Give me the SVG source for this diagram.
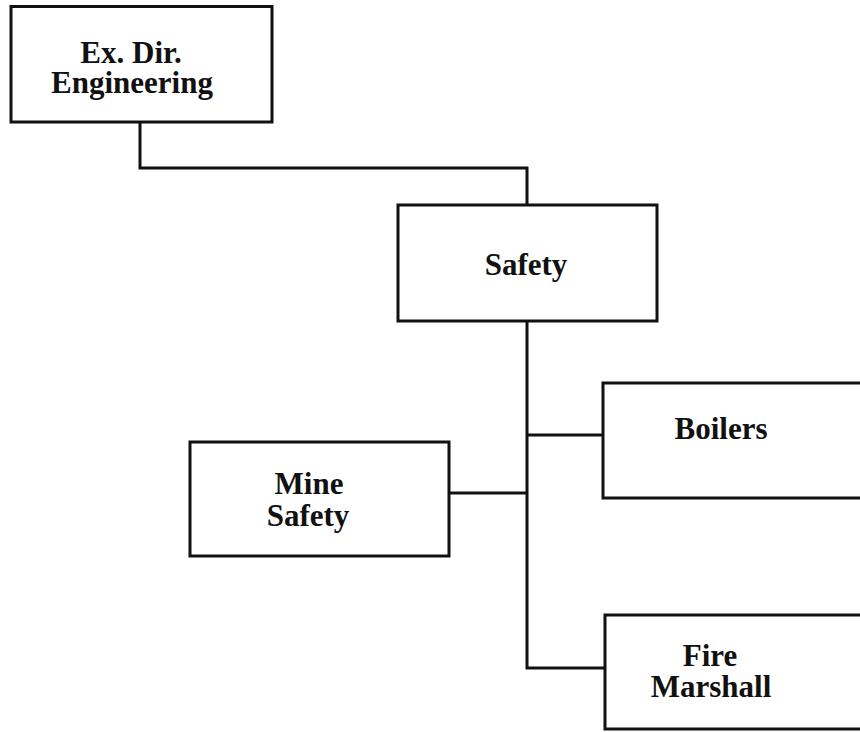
<svg xmlns="http://www.w3.org/2000/svg" width="860" height="732" viewBox="0 0 860 732">
  <style>
    .box { fill: #ffffff; stroke: #111111; stroke-width: 3; }
    .link { fill: none; stroke: #111111; stroke-width: 3; stroke-linejoin: miter; }
    .label { font-family: "Liberation Serif", "Times New Roman", serif; font-weight: bold; font-size: 31px; fill: #111111; text-anchor: middle; }
  </style>
  <rect width="860" height="732" fill="#ffffff"/>

  <g id="connectors">
    <path class="link" d="M140,122 V168 H527 V205"/>
    <path class="link" d="M527,321 V668 H605"/>
    <path class="link" d="M527,435 H603"/>
    <path class="link" d="M449,493 H527"/>
  </g>

  <g id="exdir">
    <rect class="box" x="11" y="6.5" width="261" height="115.5"/>
    <text class="label" x="131" y="63">Ex. Dir.</text>
    <text class="label" x="132" y="93">Engineering</text>
  </g>

  <g id="safety">
    <rect class="box" x="398" y="205" width="259" height="116"/>
    <text class="label" x="526" y="275">Safety</text>
  </g>

  <g id="boilers">
    <rect class="box" x="603" y="383" width="270" height="115"/>
    <text class="label" x="721" y="439">Boilers</text>
  </g>

  <g id="mine-safety">
    <rect class="box" x="190" y="442" width="259" height="114"/>
    <text class="label" x="309" y="494">Mine</text>
    <text class="label" x="308" y="526">Safety</text>
  </g>

  <g id="fire-marshall">
    <rect class="box" x="605" y="615" width="270" height="114"/>
    <text class="label" x="710" y="666">Fire</text>
    <text class="label" x="711" y="697">Marshall</text>
  </g>
</svg>
